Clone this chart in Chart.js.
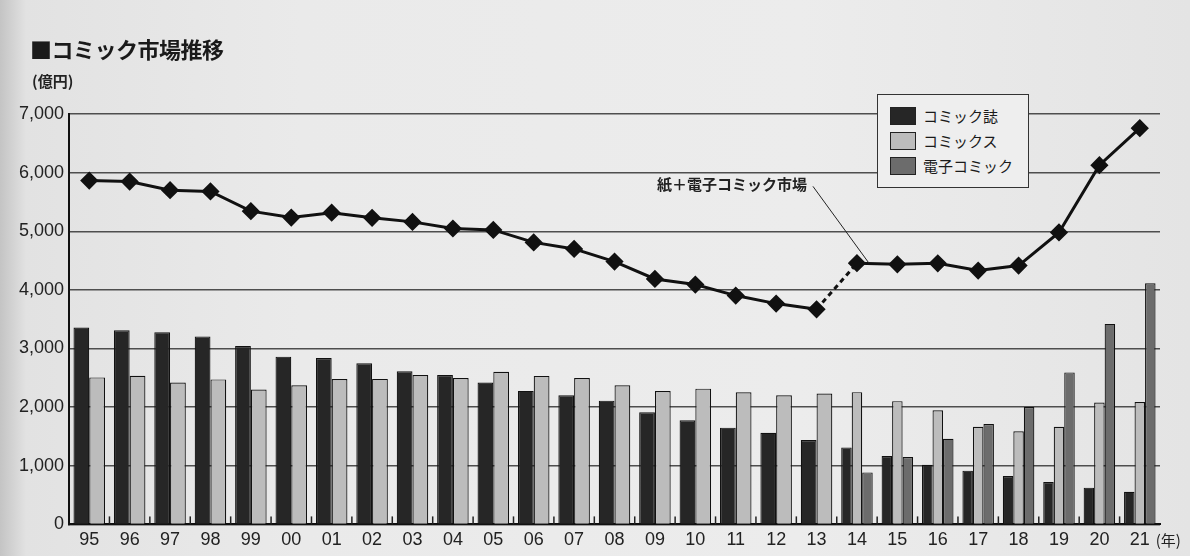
<!DOCTYPE html>
<html lang="ja">
<head>
<meta charset="utf-8">
<title>コミック市場推移</title>
<script src="https://cdn.jsdelivr.net/npm/chart.js@4/dist/chart.umd.min.js"></script>
<style>
  body {
    margin: 0;
    width: 1190px;
    height: 556px;
    overflow: hidden;
    background: linear-gradient(90deg, #c4c4c4 0px, #e2e2e2 26px, #eaeaea 300px, #ececec 800px, #e4e4e4 1190px);
    font-family: 'Liberation Sans', 'Noto Sans CJK JP', sans-serif;
  }
  .wrap { position: relative; width: 1190px; height: 556px; }
  .title {
    position: absolute; left: 30px; top: 32px;
    font-family: 'Noto Sans CJK JP', sans-serif;
    font-size: 22px; font-weight: bold; color: #1a1a1a;
    letter-spacing: -0.5px;
  }
  .unit {
    position: absolute; left: 32px; top: 70px;
    font-family: 'Noto Sans CJK JP', sans-serif;
    font-size: 15px; font-weight: bold; color: #222;
  }
  .legend {
    position: absolute; left: 877px; top: 94px;
    width: 152px; height: 94px;
    border: 1.5px solid #333;
    background: #eeeeee;
    box-sizing: border-box;
    padding: 8px 0 0 12px;
  }
  .legend div {
    display: flex; align-items: center;
    height: 25px;
    font-family: 'Noto Sans CJK JP', sans-serif;
    font-size: 15px; color: #1a1a1a;
  }
  .legend span {
    display: inline-block; width: 24px; height: 16px;
    border: 1px solid #222; margin-right: 7px;
  }
</style>
</head>
<body>
<div class="wrap">
  <canvas id="comic-chart" width="1190" height="556"></canvas>
  <div class="title">■コミック市場推移</div>
  <div class="unit">(億円)</div>
  <div class="legend" id="legend"></div>
</div>
<script>
// fiscal years, two-digit labels
const years = ['95', '96', '97', '98', '99', '00', '01', '02', '03', '04', '05', '06', '07',
  '08', '09', '10', '11', '12', '13', '14', '15', '16', '17', '18', '19', '20', '21'];

// コミック誌 (億円)
const magazines = [3357, 3312, 3279, 3207, 3041, 2861, 2837, 2748, 2611, 2549, 2421, 2277, 2204,
  2111, 1913, 1776, 1650, 1564, 1438, 1313, 1166, 1016, 917, 824, 722, 627, 558];

// コミックス (億円)
const comics = [2507, 2535, 2421, 2473, 2302, 2372, 2480, 2482, 2549, 2498, 2602, 2533, 2495,
  2372, 2274, 2315, 2253, 2202, 2231, 2256, 2102, 1947, 1666, 1588, 1665, 2079, 2087];

// 電子コミック (億円), counted from 2014
const digital = [null, null, null, null, null, null, null, null, null, null, null, null, null,
  null, null, null, null, null, null, 887, 1149, 1460, 1711, 2002, 2593, 3420, 4114];

// 紙+電子コミック市場 (億円)
const market = [5864, 5847, 5700, 5680, 5343, 5233, 5317, 5230, 5160, 5047, 5023, 4810, 4699,
  4483, 4187, 4091, 3903, 3766, 3669, 4456, 4437, 4454, 4330, 4414, 4980, 6126, 6759];

const yTicks = [0, 1000, 2000, 3000, 4000, 5000, 6000, 7000];

const barNames = ['コミック誌', 'コミックス', '電子コミック'];
const barColors = ['#262626', '#bcbcbc', '#6c6c6c'];

const numFont = "'Liberation Sans', Arial, sans-serif";
const jpFont = "'Noto Sans CJK JP', sans-serif";

// legend box
let legendBox = document.getElementById('legend');
for (let i = 0; i < barNames.length; i++) {
  let row = document.createElement('div');
  row.innerHTML = '<span style="background:' + barColors[i] + '"></span>' + barNames[i];
  legendBox.appendChild(row);
}

// small upward ticks between categories, the 年 unit and the market callout
const extras = {
  id: 'extras',
  afterDatasetsDraw(chart) {
    const ctx = chart.ctx;
    const x = chart.scales.x;
    const y = chart.scales.y;
    const base = y.getPixelForValue(0);
    const half = (x.getPixelForValue(1) - x.getPixelForValue(0)) / 2;

    ctx.save();
    ctx.strokeStyle = '#222';
    ctx.lineWidth = 1.5;
    for (let i = 0; i < years.length - 1; i++) {
      let px = x.getPixelForValue(i) + half;
      ctx.beginPath();
      ctx.moveTo(px, base);
      ctx.lineTo(px, base - 8);
      ctx.stroke();
    }

    // (年) after the last label
    ctx.fillStyle = '#222';
    ctx.font = '15px ' + jpFont;
    ctx.textBaseline = 'middle';
    ctx.textAlign = 'left';
    ctx.fillText('(年)', x.getPixelForValue(years.length - 1) + 16, base + 16);

    // callout for the line
    const ax = x.getPixelForValue(19) + 12;
    const ay = y.getPixelForValue(market[19]);
    const tx = ax - 62;
    const ty = y.getPixelForValue(5800);
    ctx.beginPath();
    ctx.lineWidth = 1;
    ctx.moveTo(tx + 6, ty + 2);
    ctx.lineTo(ax, ay);
    ctx.stroke();
    ctx.font = 'bold 15px ' + jpFont;
    ctx.textAlign = 'right';
    ctx.fillText('紙＋電子コミック市場', tx, ty);
    ctx.restore();
  }
};

const barBase = {
  type: 'bar',
  borderColor: '#111',
  borderWidth: 1.2,
  skipNull: true,
  categoryPercentage: 0.78,
  barPercentage: 1.0,
  order: 2
};

let comicChart = new Chart(document.getElementById('comic-chart'), {
  data: {
    labels: years,
    datasets: [
      {
        type: 'line',
        label: '紙＋電子コミック市場',
        data: market,
        borderColor: '#111',
        borderWidth: 3,
        pointStyle: 'rectRot',
        pointRadius: 7,
        pointBackgroundColor: '#111',
        pointBorderColor: '#111',
        tension: 0,
        order: 0,
        segment: {
          // paper only -> paper + digital
          borderDash: ctx => ctx.p0DataIndex === 18 ? [5, 4] : undefined
        }
      },
      Object.assign({}, barBase, { label: barNames[0], data: magazines, backgroundColor: barColors[0] }),
      Object.assign({}, barBase, { label: barNames[1], data: comics, backgroundColor: barColors[1] }),
      Object.assign({}, barBase, { label: barNames[2], data: digital, backgroundColor: barColors[2] })
    ]
  },
  options: {
    responsive: false,
    animation: false,
    devicePixelRatio: 1,
    layout: {
      padding: { top: 114, left: 14, right: 30, bottom: 0 }
    },
    plugins: {
      legend: { display: false },
      tooltip: { enabled: false }
    },
    scales: {
      x: {
        grid: { display: false, drawTicks: false },
        border: { color: '#111', width: 2 },
        ticks: {
          color: '#222',
          font: { family: numFont, size: 18 },
          padding: 5
        }
      },
      y: {
        min: 0,
        max: 7000,
        afterBuildTicks: axis => {
          axis.ticks = yTicks.map(v => ({ value: v }));
        },
        grid: {
          color: '#4e4e4e',
          lineWidth: 1.5,
          drawTicks: false
        },
        border: { color: '#111', width: 2 },
        ticks: {
          color: '#222',
          font: { family: numFont, size: 18 },
          padding: 5,
          callback: v => v.toLocaleString('en-US')
        }
      }
    }
  },
  plugins: [extras]
});
</script>
</body>
</html>
